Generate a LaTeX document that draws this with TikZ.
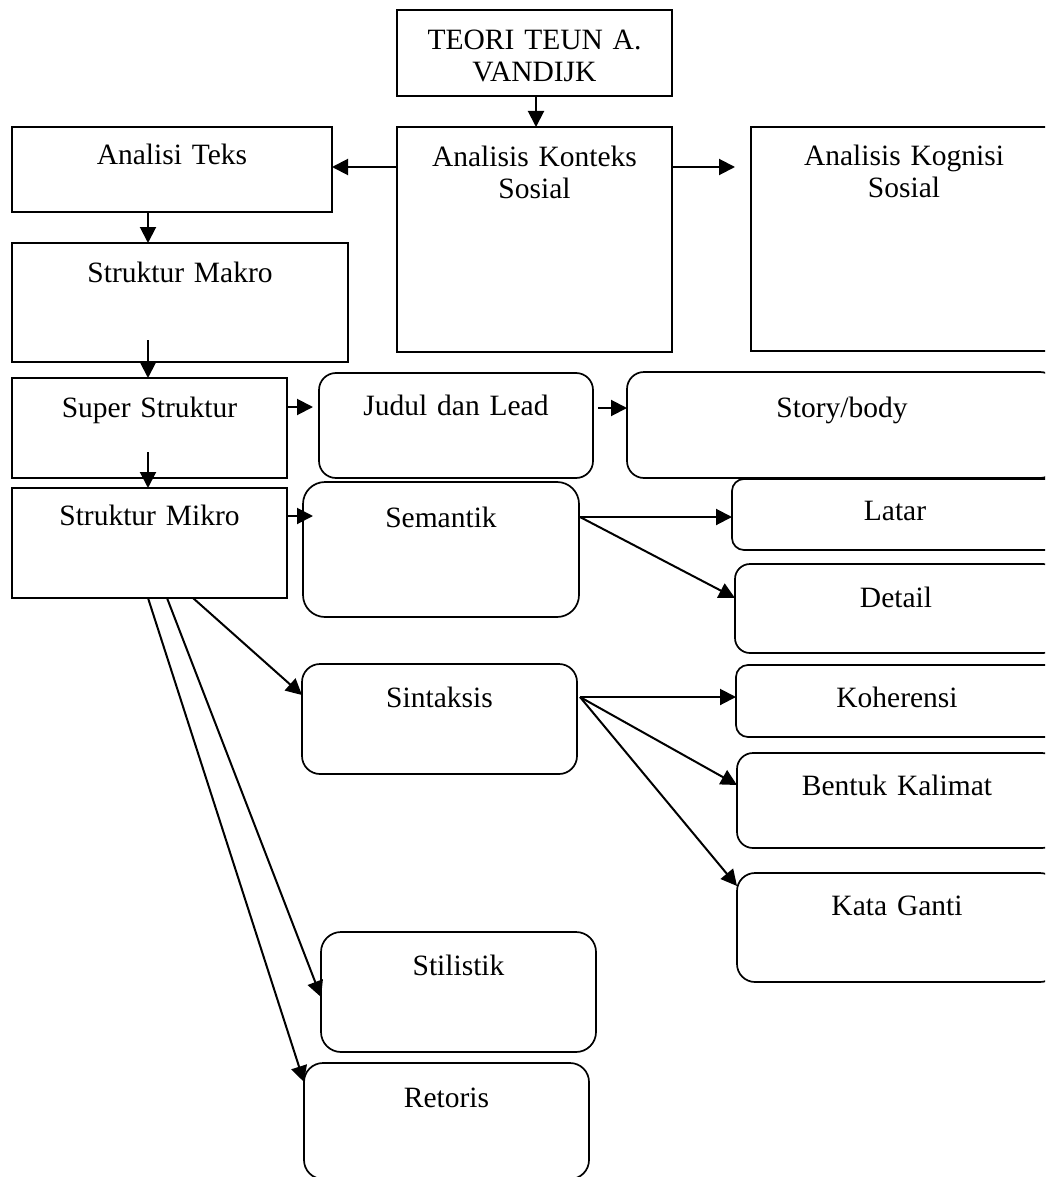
\documentclass[tikz,border=0pt]{standalone}
\usepackage{fontspec}
\setmainfont{Liberation Serif}
\usetikzlibrary{arrows.meta}
\newcommand\dbox[6]{\node[#2, minimum width={(#5)-(#3)}, minimum height={(#6)-(#4)}] (#1) at ({((#3)+(#5))/2},{((#4)+(#6))/2}) {};}
\newcommand\dtext[4]{\node[txt] (#1-t) at ({#2},{#3}) {#4};}
\tikzset{
  sbox/.style={draw, line width=1.7pt, inner sep=0pt, outer sep=0pt, rectangle},
  rbox/.style={draw, line width=1.7pt, inner sep=0pt, outer sep=0pt, rectangle, rounded corners=#1},
  txt/.style={anchor=base, inner sep=0pt, text width=320pt, align=center, font=\fontsize{29.5}{32}\selectfont},
  arr/.style={line width=2pt, -{Triangle[length=16pt,width=16pt]}}
}
\begin{document}
\begin{tikzpicture}[x=1pt,y=-1pt]
\useasboundingbox (0,0) rectangle (1045,1177);
\clip (0,0) rectangle (1045,1177);
% square boxes
\dbox{teori}{sbox}{397}{10}{672}{96}
\dbox{konteks}{sbox}{397}{127}{672}{352}
\dbox{teks}{sbox}{12}{127}{332}{212}
\dbox{kognisi}{sbox}{751}{127}{1057}{351}
\dbox{makro}{sbox}{12}{243}{348}{362}
\dbox{super}{sbox}{12}{378}{287}{478}
\dbox{mikro}{sbox}{12}{488}{287}{598}
% rounded boxes
\dbox{judul}{rbox=17pt}{319}{373}{593}{478}
\dbox{story}{rbox=17pt}{627}{372}{1057}{478}
\dbox{semantik}{rbox=22pt}{303}{482}{579}{617}
\dbox{latar}{rbox=12pt}{732}{479}{1058}{550}
\dbox{detail}{rbox=15pt}{735}{564}{1058}{653}
\dbox{sintaksis}{rbox=18pt}{302}{664}{577}{774}
\dbox{koherensi}{rbox=12pt}{736}{665}{1058}{737}
\dbox{bentuk}{rbox=16pt}{737}{753}{1058}{848}
\dbox{kata}{rbox=18pt}{737}{873}{1058}{982}
\dbox{stilistik}{rbox=20pt}{321}{932}{596}{1052}
\dbox{retoris}{rbox=19pt}{304}{1063}{589}{1179}
% texts
\dtext{teori}{534.5}{50}{TEORI TEUN A.\\VANDIJK}
\dtext{konteks}{534.5}{167}{Analisis Konteks\\Sosial}
\dtext{teks}{172}{165}{Analisi Teks}
\dtext{kognisi}{904}{166}{Analisis Kognisi\\Sosial}
\dtext{makro}{180}{282}{Struktur Makro}
\dtext{super}{149.5}{417}{Super Struktur}
\dtext{mikro}{149.5}{525}{Struktur Mikro}
\dtext{judul}{456}{415}{Judul dan Lead}
\dtext{story}{842}{417}{Story/body}
\dtext{semantik}{441}{527}{Semantik}
\dtext{latar}{895}{520}{Latar}
\dtext{detail}{896}{607}{Detail}
\dtext{sintaksis}{439.5}{707}{Sintaksis}
\dtext{koherensi}{897}{707}{Koherensi}
\dtext{bentuk}{897}{795}{Bentuk Kalimat}
\dtext{kata}{897}{915}{Kata Ganti}
\dtext{stilistik}{458.5}{975}{Stilistik}
\dtext{retoris}{446.5}{1107}{Retoris}
% connectors
\draw[arr] ([xshift=1.5pt]teori.south) -- ([xshift=1.5pt]konteks.north);
\draw[arr] ([yshift=72.5pt]konteks.west) -- ([yshift=2.5pt]teks.east);
\draw[arr] ([yshift=72.5pt]konteks.east) -- ([xshift=-16pt,yshift=72pt]kognisi.west);
\draw[arr] ([xshift=-24pt]teks.south) -- ([xshift=-32pt]makro.north);
\draw[arr] ([xshift=-32pt,yshift=22pt]makro.south) -- ([xshift=-1.5pt]super.north);
\draw[arr] ([xshift=-1.5pt,yshift=26pt]super.south) -- ([xshift=-1.5pt]mikro.north);
\draw[arr] ([yshift=21pt]super.east) -- ([xshift=-6pt,yshift=18.5pt]judul.west);
\draw[arr] ([xshift=5pt,yshift=17.5pt]judul.east) -- ([yshift=17pt]story.west);
\draw[arr] ([yshift=27pt]mikro.east) -- ([xshift=10pt,yshift=33.5pt]semantik.west);
\draw[arr] ([xshift=1pt,yshift=32.5pt]semantik.east) -- ([yshift=-2.5pt]latar.west);
\draw[arr] ([xshift=1pt,yshift=32.5pt]semantik.east) -- ([yshift=10.5pt]detail.west);
\draw[arr] ([xshift=43.5pt]mikro.south) -- ([yshift=24pt]sintaksis.west);
\draw[arr] ([xshift=3pt,yshift=22pt]sintaksis.east) -- ([yshift=4pt]koherensi.west);
\draw[arr] ([xshift=3pt,yshift=22pt]sintaksis.east) -- ([yshift=15.5pt]bentuk.west);
\draw[arr] ([xshift=3pt,yshift=22pt]sintaksis.east) -- ([yshift=41.5pt]kata.west);
\draw[arr] ([xshift=17.5pt]mikro.south) -- ([yshift=-5pt]stilistik.west);
\draw[arr] ([xshift=-1.5pt]mikro.south) -- ([yshift=39pt]retoris.west);
\end{tikzpicture}
\end{document}
